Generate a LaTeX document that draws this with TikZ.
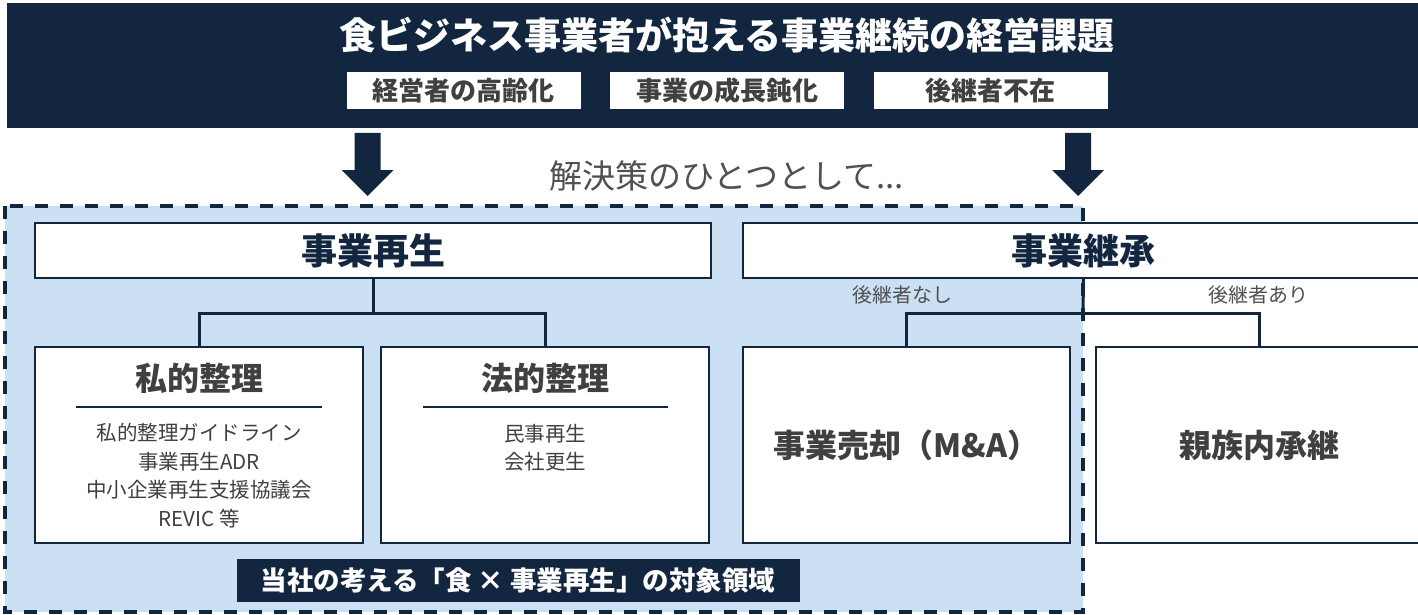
\documentclass[tikz,border=0pt]{standalone}
\usepackage{fontspec}
\setmainfont{Noto Sans CJK JP}
\definecolor{navy}{RGB}{19,38,63}
\definecolor{lblue}{RGB}{204,224,244}
\definecolor{dgray}{RGB}{64,64,64}
\definecolor{mgray}{RGB}{80,80,80}
\tikzset{
  box/.style={draw=navy, line width=2pt, fill=white, inner sep=0pt},
  conn/.style={draw=navy, line width=3pt},
  hdrbox/.style={fill=white, inner sep=0pt, minimum width=234pt, minimum height=37pt, text=dgray, font=\fontsize{26}{30}\selectfont\bfseries},
  boxtitle/.style={text=dgray, font=\fontsize{32}{38}\selectfont\bfseries},
  items/.style={text=dgray, align=center, font=\fontsize{20.5}{28.5}\selectfont},
  branch/.style={text=mgray, font=\fontsize{20}{24}\selectfont},
  bigarrow/.style={fill=navy}
}
\begin{document}
\begin{tikzpicture}[x=1pt,y=-1pt]
\useasboundingbox (0,0) rectangle (1418,615);
\clip (0,0) rectangle (1418,615);
% header banner
\fill[navy] (7,3) rectangle (1425,128);
\node[text=white, font=\fontsize{37}{42}\selectfont\bfseries] (title) at (727,35) {食ビジネス事業者が抱える事業継続の経営課題};
\node[hdrbox] (h1) at (463.5,91) {経営者の高齢化};
\node[hdrbox] (h2) at (727,91) {事業の成長鈍化};
\node[hdrbox] (h3) at (990.5,91) {後継者不在};
% block arrows
\fill[bigarrow] (354.5,133) -- (380.5,133) -- (380.5,170) -- (393.5,170) -- (367.5,196) -- (341.5,170) -- (354.5,170) -- cycle;
\fill[bigarrow] (1065,133) -- (1091,133) -- (1091,170) -- (1104,170) -- (1078,196) -- (1052,170) -- (1065,170) -- cycle;
\node[text=mgray, font=\fontsize{33}{38}\selectfont] (sol) at (727,176) {解決策のひとつとして...};
% target area
\path[fill=lblue, draw=navy, line width=4pt, dash pattern=on 13pt off 12pt] (5,206) rectangle (1083,612);
% level 1 boxes
\node[box, minimum width=676pt, minimum height=55pt, text=navy, font=\fontsize{36}{42}\selectfont\bfseries] (saisei) at (373,250.5) {事業再生};
\node[box, minimum width=681pt, minimum height=55pt, text=navy, font=\fontsize{36}{42}\selectfont\bfseries] (keishou) at (1083.5,250.5) {事業継承};
% level 2 boxes
\node[box, minimum width=328pt, minimum height=196pt] (shiteki) at (199,445) {};
\node[box, minimum width=328pt, minimum height=196pt] (houteki) at (545,445) {};
\node[box, minimum width=327pt, minimum height=196pt, boxtitle] (baikyaku) at (906.5,445) {事業売却（M\&A）};
\node[box, minimum width=326pt, minimum height=196pt, boxtitle] (shinzoku) at (1259,445) {親族内承継};
% connectors
\coordinate (j1) at (373,313);
\coordinate (j2) at (1083,313);
\draw[conn] (saisei.south) -- (j1);
\draw[conn] (shiteki.north) |- (j1) -| (houteki.north);
\draw[conn] (keishou.south) -- (j2);
\draw[conn] (baikyaku.north) |- (j2) -| (shinzoku.north);
\node[branch] (nashi) at (902,295) {後継者なし};
\node[branch] (ari) at (1258,295) {後継者あり};
% contents of left boxes
\node[boxtitle] (t1) at (199,378) {私的整理};
\draw[navy, line width=1.5pt] (76,407) -- (321.5,407);
\node[items] (i1) at (199,475.5) {私的整理ガイドライン\\事業再生ADR\\中小企業再生支援協議会\\REVIC 等};
\node[boxtitle] (t2) at (545,378) {法的整理};
\draw[navy, line width=1.5pt] (422.5,407) -- (668,407);
\node[items] (i2) at (545,447.5) {民事再生\\会社更生};
% scope label
\node[fill=navy, text=white, minimum width=563pt, minimum height=43pt, inner sep=0pt, font=\fontsize{26.5}{30}\selectfont\bfseries] (scope) at (518,580) {当社の考える「食 × 事業再生」の対象領域};
\end{tikzpicture}
\end{document}
